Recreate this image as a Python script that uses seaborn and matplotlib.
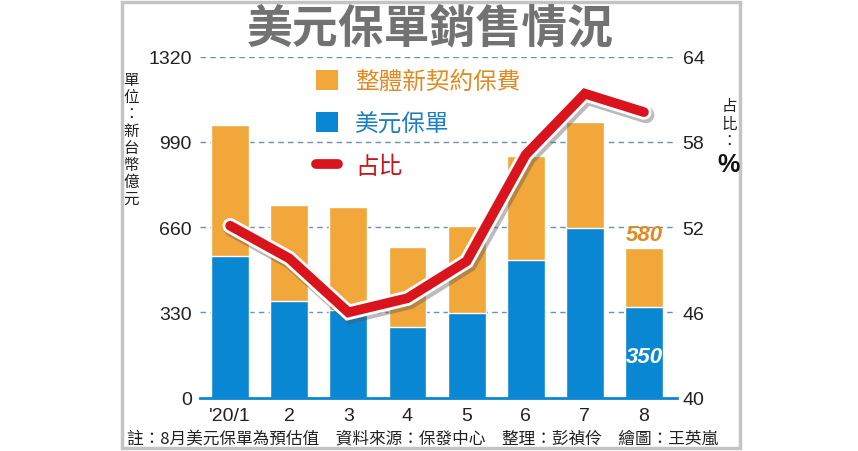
import matplotlib
matplotlib.use("Agg")
import matplotlib.pyplot as plt
import matplotlib.patheffects as pe
from matplotlib.patches import Patch, Rectangle
from matplotlib.lines import Line2D
import seaborn as sns
import pandas as pd

# ---- data ----
months = ["'20/1", "2", "3", "4", "5", "6", "7", "8"]
total_premium = [1057, 747, 740, 585, 663, 936, 1067, 580]   # 整體新契約保費
usd_policy = [550, 375, 340, 275, 326, 534, 656, 350]        # 美元保單
share_pct = [52.1, 49.8, 46.0, 47.0, 49.6, 57.1, 61.4, 60.1]  # 占比 %
left_ticks = [0, 330, 660, 990, 1320]
right_ticks = [40, 46, 52, 58, 64]

title = "美元保單銷售情況"
legend_labels = ["整體新契約保費", "美元保單", "占比"]
left_unit = "單位：新台幣億元"
right_unit = "占比："
note = "註：8月美元保單為預估值　資料來源：保發中心　整理：彭禎伶　繪圖：王英嵐"

df = pd.DataFrame({"month": months, "total": total_premium,
                   "usd": usd_policy, "share": share_pct})

sns.set_style("white")
plt.rcParams["font.family"] = ["Liberation Sans", "Noto Sans CJK TC"]
CJK = ["Noto Sans CJK TC", "DejaVu Sans"]

ORANGE = "#f2a73b"
BLUE = "#0a87d2"
RED = "#d9141c"
GRID = "#6d93ab"

fig = plt.figure(figsize=(8.58, 4.52), dpi=100)
fig.patch.set_facecolor("white")
ax = fig.add_axes([0.2331, 0.1181, 0.556, 0.7542])

# frame
fig.patches.append(Rectangle((122 / 858, 3 / 452), (740 - 122) / 858, (449 - 3) / 452,
                             transform=fig.transFigure, fill=False,
                             edgecolor="#c4c4c4", linewidth=2.5, zorder=0))

sns.barplot(data=df, x="month", y="total", color=ORANGE, width=0.64,
            saturation=1, ax=ax, zorder=2)
sns.barplot(data=df, x="month", y="usd", color=BLUE, width=0.64,
            saturation=1, ax=ax, zorder=3)

ax.set_xlim(-0.51, 7.56)
ax.set_ylim(0, 1320)
ax.set_yticks(left_ticks)
ax.set_yticklabels([str(v) for v in left_ticks], fontsize=14, color="#222222")
ax.tick_params(axis="y", length=0, pad=6)
ax.tick_params(axis="x", length=5, width=1.5, color=BLUE, labelsize=14,
               labelcolor="#222222", pad=2, direction="out")
ax.set_xlabel("")
ax.set_ylabel("")
for side in ["left", "right", "top"]:
    ax.spines[side].set_visible(False)
ax.spines["bottom"].set_color(BLUE)
ax.spines["bottom"].set_linewidth(2)
ax.spines["bottom"].set_zorder(5)
for v in left_ticks[1:]:
    ax.axhline(v, color=GRID, linestyle=(0, (4, 3)), linewidth=1, zorder=1)

# labels for month 8
ax.annotate(f"{total_premium[7]}", (7, total_premium[7]), xytext=(0, 2),
            textcoords="offset points", ha="center", va="bottom",
            fontsize=16, fontweight="bold", fontstyle="italic", color="#e08a22", zorder=6)
ax.text(7, usd_policy[7] * 0.46, f"{usd_policy[7]}", ha="center", va="center",
        fontsize=16, fontweight="bold", fontstyle="italic", color="white", zorder=6)

# share line
ax2 = ax.twinx()
ax2.set_position(ax.get_position())
sns.lineplot(data=df, x="month", y="share", ax=ax2, color=RED, linewidth=7,
             solid_capstyle="round", solid_joinstyle="miter", zorder=10)
ax2.lines[0].set_path_effects([
    pe.SimpleLineShadow(offset=(1.5, -2), shadow_color="#555555", alpha=0.4, linewidth=12),
    pe.Stroke(linewidth=11, foreground="white"),
    pe.Normal(),
])
ax2.set_xlim(-0.51, 7.56)
ax2.set_ylim(40, 64)
ax2.set_yticks(right_ticks)
ax2.set_yticklabels([str(v) for v in right_ticks], fontsize=14, color="#222222")
ax2.tick_params(axis="y", length=0, pad=4)
ax2.set_ylabel("")
ax2.set_xlabel("")
for s in ax2.spines.values():
    s.set_visible(False)

# legend
handles = [Patch(facecolor=ORANGE, edgecolor="none"),
           Patch(facecolor=BLUE, edgecolor="none"),
           Line2D([0], [0], color=RED, linewidth=7)]
leg = ax2.legend(handles, legend_labels, loc="upper left",
                 bbox_to_anchor=(0.238, 0.968), frameon=False, prop={"family": CJK, "size": 17},
                 handlelength=0.95, handleheight=0.9, handletextpad=0.7,
                 labelspacing=0.82, borderpad=0.1, borderaxespad=0)
for t, c in zip(leg.get_texts(), ["#e08a22", "#1c7fc1", "#c8161d"]):
    t.set_color(c)

# title
fig.text(430 / 858, 1 - 29 / 452, title, ha="center", va="center", family=CJK,
         fontsize=33, fontweight="bold", color="#727272")

# unit labels
fig.text(131 / 858, 1 - 140 / 452, "\n".join(left_unit), ha="center", va="center",
         family=CJK, fontsize=11.2, linespacing=1.0, color="#222222")
fig.text(729 / 858, 1 - 124 / 452, "\n".join(right_unit), ha="center", va="center",
         family=CJK, fontsize=11.2, linespacing=1.0, color="#222222")
fig.text(729 / 858, 1 - 165 / 452, "%", ha="center", va="center",
         fontsize=18, fontweight="bold", color="#111111")

# footnote
fig.text(127 / 858, 1 - 440 / 452, note, ha="left", va="center", family=CJK,
         fontsize=12.0, color="#222222")

fig.savefig("out.png", dpi=100)
